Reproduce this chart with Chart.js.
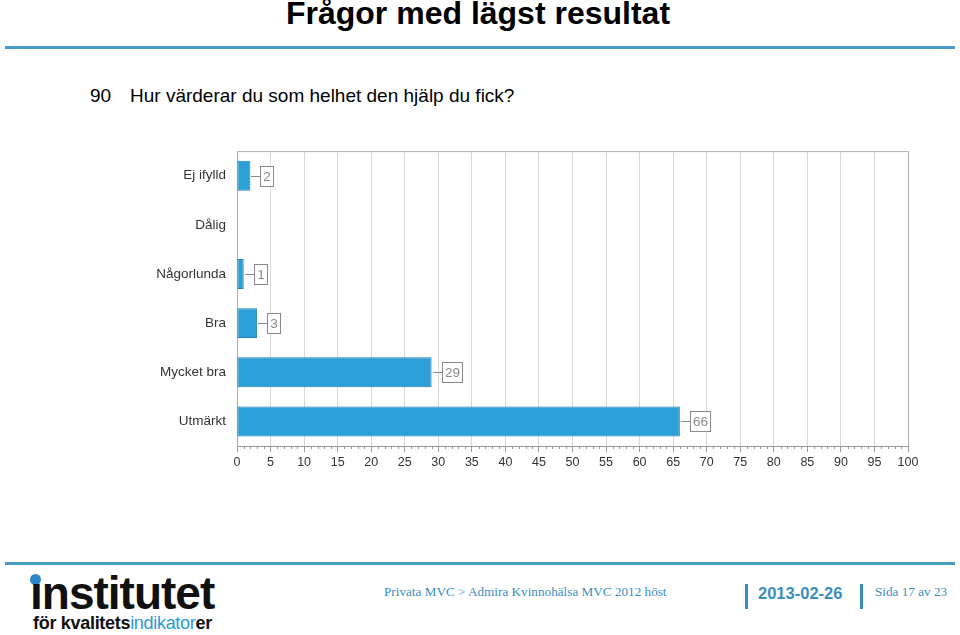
<!DOCTYPE html>
<html>
<head>
<meta charset="utf-8">
<script src="https://cdn.jsdelivr.net/npm/chart.js@4/dist/chart.umd.min.js"></script>
<style>
  body { margin: 0; width: 960px; height: 635px; background: #fff; position: relative; overflow: hidden; font-family: "Liberation Sans", Arial, sans-serif; }
  .title { position: absolute; top: -5px; left: 0; width: 956px; text-align: center; font-size: 32px; font-weight: bold; color: #000; }
  .rule { position: absolute; left: 5px; width: 950px; height: 3px; background: #4a9bc7; }
  .question { position: absolute; top: 85px; left: 90px; font-size: 19px; color: #000; }
  .question span { display: inline-block; width: 40px; }
  #wrap { position: absolute; left: 140px; top: 137px; width: 790px; height: 336px; }
  .foot { position: absolute; color: #3a8dbf; }
  .logo1 { position: absolute; left: 30px; top: 566px; font-size: 46px; font-weight: bold; color: #111; letter-spacing: -1px; }
  .logo2 { position: absolute; left: 33px; top: 613px; font-size: 18px; font-weight: bold; color: #111; letter-spacing: -0.3px; }
  .logo2 span { color: #2a9ad6; font-weight: normal; }
  .dot { position: absolute; left: 30px; top: 574px; width: 11px; height: 11px; border-radius: 50%; background: #2a86c8; }
  .bar { position: absolute; top: 584px; width: 3px; height: 25px; background: #3a8dbf; }
</style>
</head>
<body>
<div class="title">Frågor med lägst resultat</div>
<div class="rule" style="top:46px"></div>
<div class="question"><span>90</span>Hur värderar du som helhet den hjälp du fick?</div>
<div id="wrap"><canvas id="chart"></canvas></div>

<div class="rule" style="top:562px"></div>
<div class="dot"></div>
<div class="logo1">ınstitutet</div>
<div class="logo2">för kvalitets<span>indikator</span>er</div>
<div class="foot" style="left:384px; top:584px; font-family:'Liberation Serif', serif; font-size:13.2px;">Privata MVC &gt; Admira Kvinnohälsa MVC 2012 höst</div>
<div class="bar" style="left:745px"></div>
<div class="foot" style="left:758px; top:584px; font-size:16.5px; font-weight:bold;">2013-02-26</div>
<div class="bar" style="left:860px"></div>
<div class="foot" style="left:875px; top:584px; font-family:'Liberation Serif', serif; font-size:13.2px;">Sida 17 av 23</div>

<script>
const categories = ['Ej ifylld', 'Dålig', 'Någorlunda', 'Bra', 'Mycket bra', 'Utmärkt'];
const counts = [2, 0, 1, 3, 29, 66];
const xTicks = [0, 5, 10, 15, 20, 25, 30, 35, 40, 45, 50, 55, 60, 65, 70, 75, 80, 85, 90, 95, 100];

// boxed value labels with a short connector line
const valueBoxes = {
  id: 'valueBoxes',
  afterDatasetsDraw(chart) {
    const ctx = chart.ctx;
    const meta = chart.getDatasetMeta(0);
    ctx.save();
    ctx.font = '13.5px "Liberation Sans", Arial, sans-serif';
    meta.data.forEach((bar, i) => {
      if (!counts[i]) return;
      const txt = String(counts[i]);
      const w = Math.round(ctx.measureText(txt).width + 5);
      const h = 20;
      const x0 = Math.round(bar.x) + 1;
      const bx = x0 + 9;
      const y = Math.round(bar.y) + 0.5;
      ctx.strokeStyle = '#8a8a8a';
      ctx.lineWidth = 1;
      ctx.beginPath();
      ctx.moveTo(x0, y);
      ctx.lineTo(bx, y);
      ctx.stroke();
      ctx.fillStyle = '#fff';
      ctx.fillRect(bx + 0.5, y - h / 2, w, h);
      ctx.strokeRect(bx + 0.5, y - h / 2, w, h);
      ctx.fillStyle = '#8a8a8a';
      ctx.textAlign = 'center';
      ctx.textBaseline = 'middle';
      ctx.fillText(txt, bx + 0.5 + w / 2, y + 1);
    });
    ctx.restore();
  }
};

// frame on top/right plus small minor ticks along the x axis
const frame = {
  id: 'frame',
  afterDraw(c) {
    const a = c.chartArea;
    const g = c.ctx;
    const xs = c.scales.x;
    g.save();
    g.strokeStyle = '#b0b0b0';
    g.lineWidth = 1;
    g.beginPath();
    g.moveTo(a.left, a.top + 0.5);
    g.lineTo(a.right + 0.5, a.top + 0.5);
    g.lineTo(a.right + 0.5, a.bottom);
    g.stroke();
    g.strokeStyle = '#999';
    g.beginPath();
    for (let v = 1; v < 100; v++) {
      if (v % 5 === 0) continue;
      const px = Math.round(xs.getPixelForValue(v)) + 0.5;
      g.moveTo(px, a.bottom);
      g.lineTo(px, a.bottom + 3);
    }
    g.stroke();
    g.restore();
  }
};

const ctx = document.getElementById('chart').getContext('2d');
const chart = new Chart(ctx, {
  type: 'bar',
  data: {
    labels: categories,
    datasets: [{
      data: counts,
      backgroundColor: '#2b9fd8',
      borderColor: '#1d7fb3',
      borderWidth: 1,
      borderSkipped: false,
      barPercentage: 0.61,
      categoryPercentage: 1.0
    }]
  },
  options: {
    indexAxis: 'y',
    responsive: true,
    maintainAspectRatio: false,
    animation: false,
    layout: { padding: { top: 5, right: 22, left: 0, bottom: 0 } },
    plugins: { legend: { display: false }, tooltip: { enabled: false } },
    scales: {
      x: {
        min: 0,
        max: 100,
        afterBuildTicks: axis => { axis.ticks = xTicks.map(v => ({ value: v })); },
        grid: { color: '#d8d8d8', drawTicks: true, tickLength: 6, tickColor: '#999' },
        border: { color: '#999' },
        ticks: { color: '#333', font: { family: '"Liberation Sans", Arial, sans-serif', size: 12.5 }, padding: 3, maxRotation: 0, autoSkip: false }
      },
      y: {
        afterFit: axis => { axis.width = 97; },
        grid: { display: false, drawTicks: true, tickLength: 5, tickColor: '#999' },
        border: { color: '#aaa' },
        ticks: { color: '#333', font: { family: '"Liberation Sans", Arial, sans-serif', size: 13.5 }, padding: 6 }
      }
    }
  },
  plugins: [valueBoxes, frame]
});
</script>
</body>
</html>
